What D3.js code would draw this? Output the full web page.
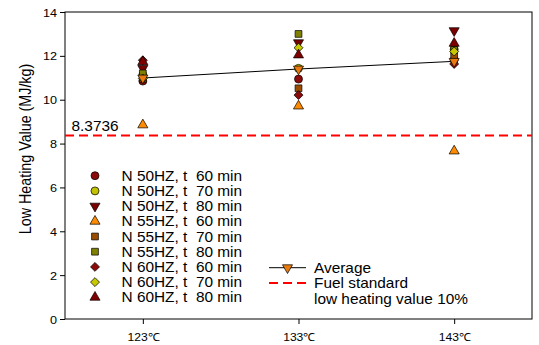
<!DOCTYPE html>
<html><head><meta charset="utf-8">
<script src="https://cdn.jsdelivr.net/npm/d3@7/dist/d3.min.js"></script>
<style>body{margin:0;background:#fff}svg{display:block}text{font-family:"Liberation Sans",Arial,sans-serif}</style>
</head><body><svg id="c" width="539" height="345"></svg>
<script>
const temps = [123, 133, 143];
const xTickLabels = ["123℃", "133℃", "143℃"];
const yTicks = [0, 2, 4, 6, 8, 10, 12, 14];
const seriesNames = ["N 50HZ, t  60 min","N 50HZ, t  70 min","N 50HZ, t  80 min","N 55HZ, t  60 min","N 55HZ, t  70 min","N 55HZ, t  80 min","N 60HZ, t  60 min","N 60HZ, t  70 min","N 60HZ, t  80 min"];
const s50_60 = [10.85, 10.94, 11.81];
const s50_70 = [11.13, 11.43, 12.30];
const s50_80 = [11.43, 12.60, 13.15];
const s55_60 = [8.85, 9.71, 7.66];
const s55_70 = [10.95, 10.52, 11.96];
const s55_80 = [11.20, 13.00, 12.27];
const s60_60 = [11.80, 10.21, 11.63];
const s60_70 = [10.97, 12.37, 12.20];
const s60_80 = [11.73, 12.04, 12.57];
const average = [10.99, 11.40, 11.75];
const fuelStandard = 8.3736;

const seriesValues = [s50_60,s50_70,s50_80,s55_60,s55_70,s55_80,s60_60,s60_70,s60_80];
const shapes = ["circle","circle","down","up","square","square","diamond","diamond","up"];
const colors = ["#8B0A0A","#C2C200","#7A0000","#FF8C00","#9A4C00","#808000","#8B0A0A","#C8C800","#800000"];

const svg = d3.select("#c");
const L = 65, R = 532, T = 12, B = 319;
const SX = 1.1;
const x = d3.scaleLinear().domain([118, 148]).range([L, R]);
const y = d3.scaleLinear().domain([0, 14]).range([B, T]);

function symPath(shape){
  if (shape === "circle") return d3.symbol(d3.symbolCircle, 50)();
  if (shape === "square") return d3.symbol(d3.symbolSquare, 46)();
  if (shape === "diamond") return d3.symbol(d3.symbolSquare, 40)();
  return d3.symbol(d3.symbolTriangle, 44)();
}
function symRot(shape){
  if (shape === "diamond") return 45;
  if (shape === "down") return 180;
  return 0;
}
function stext(g, tx, ty, size, str, anchor){
  return g.append("text").attr("transform", `translate(${tx},${ty}) scale(${SX},1)`)
    .attr("font-size", size).attr("text-anchor", anchor || "start").attr("fill", "#000")
    .attr("xml:space", "preserve").style("white-space", "pre").text(str);
}

// frame
svg.append("rect").attr("x", L).attr("y", T).attr("width", R - L).attr("height", B - T)
  .attr("fill", "none").attr("stroke", "#000").attr("stroke-width", 1);

// axes
const yAxis = d3.axisLeft(y).tickValues(yTicks).tickSize(5).tickFormat(d3.format("d"));
const gy = svg.append("g").attr("transform", `translate(${L},0)`).call(yAxis);
gy.select(".domain").remove();
gy.selectAll("text").remove();
gy.selectAll(".tick").each(function(d){
  stext(d3.select(this), -8, 4, 11.5, String(d), "end");
});

const xAxis = d3.axisBottom(x).tickValues(temps).tickSize(5).tickFormat((d, i) => xTickLabels[i]);
const gx = svg.append("g").attr("transform", `translate(0,${B})`).call(xAxis);
gx.select(".domain").remove();
gx.selectAll("text").remove();
gx.selectAll(".tick").each(function(d, i){
  stext(d3.select(this), 0, 22, 11, xTickLabels[i], "middle");
});

svg.append("text").attr("transform", `translate(30.5,149) rotate(-90) scale(1,${SX})`)
  .attr("text-anchor", "middle").attr("font-size", 14.3).attr("fill", "#000").text("Low Heating Value (MJ/kg)");

// fuel standard
svg.append("line").attr("x1", L).attr("x2", R).attr("y1", y(fuelStandard)).attr("y2", y(fuelStandard))
  .attr("stroke", "#FF0000").attr("stroke-width", 2).attr("stroke-dasharray", "9,5");
stext(svg, 71.5, y(fuelStandard) - 4, 14, String(fuelStandard));

// average line
svg.append("path").datum(average).attr("fill", "none").attr("stroke", "#000").attr("stroke-width", 1)
  .attr("d", d3.line().x((d, i) => x(temps[i])).y(d => y(d)));

// series markers
seriesValues.forEach((vals, si) => {
  svg.append("g").selectAll("path").data(vals).enter().append("path")
    .attr("d", symPath(shapes[si]))
    .attr("transform", (d, i) => `translate(${x(temps[i])},${y(d)}) rotate(${symRot(shapes[si])})`)
    .attr("fill", colors[si]).attr("stroke", "#000").attr("stroke-width", 0.7);
});
// average markers
svg.append("g").selectAll("path").data(average).enter().append("path")
  .attr("d", symPath("down"))
  .attr("transform", (d, i) => `translate(${x(temps[i])},${y(d)}) rotate(180)`)
  .attr("fill", "#E87A10").attr("stroke", "#000").attr("stroke-width", 0.7);

// legend 1
const lg = svg.append("g");
seriesNames.forEach((name, i) => {
  const yy = 175.7 + i * 15.2;
  lg.append("path").attr("d", symPath(shapes[i]))
    .attr("transform", `translate(95,${yy}) rotate(${symRot(shapes[i])})`)
    .attr("fill", colors[i]).attr("stroke", "#000").attr("stroke-width", 0.7);
  stext(lg, 121.5, yy + 5, 14, name);
});

// legend 2
const l2 = svg.append("g");
l2.append("line").attr("x1", 269).attr("x2", 306).attr("y1", 267.7).attr("y2", 267.7).attr("stroke", "#000").attr("stroke-width", 1);
l2.append("path").attr("d", symPath("down")).attr("transform", "translate(287.5,267.7) rotate(180)")
  .attr("fill", "#E87A10").attr("stroke", "#000").attr("stroke-width", 0.7);
stext(l2, 314, 273, 14, "Average");
l2.append("line").attr("x1", 269).attr("x2", 306).attr("y1", 283).attr("y2", 283)
  .attr("stroke", "#FF0000").attr("stroke-width", 2).attr("stroke-dasharray", "9,5");
stext(l2, 314, 288, 14, "Fuel standard");
stext(l2, 314, 304, 14, "low heating value 10%");
</script></body></html>
